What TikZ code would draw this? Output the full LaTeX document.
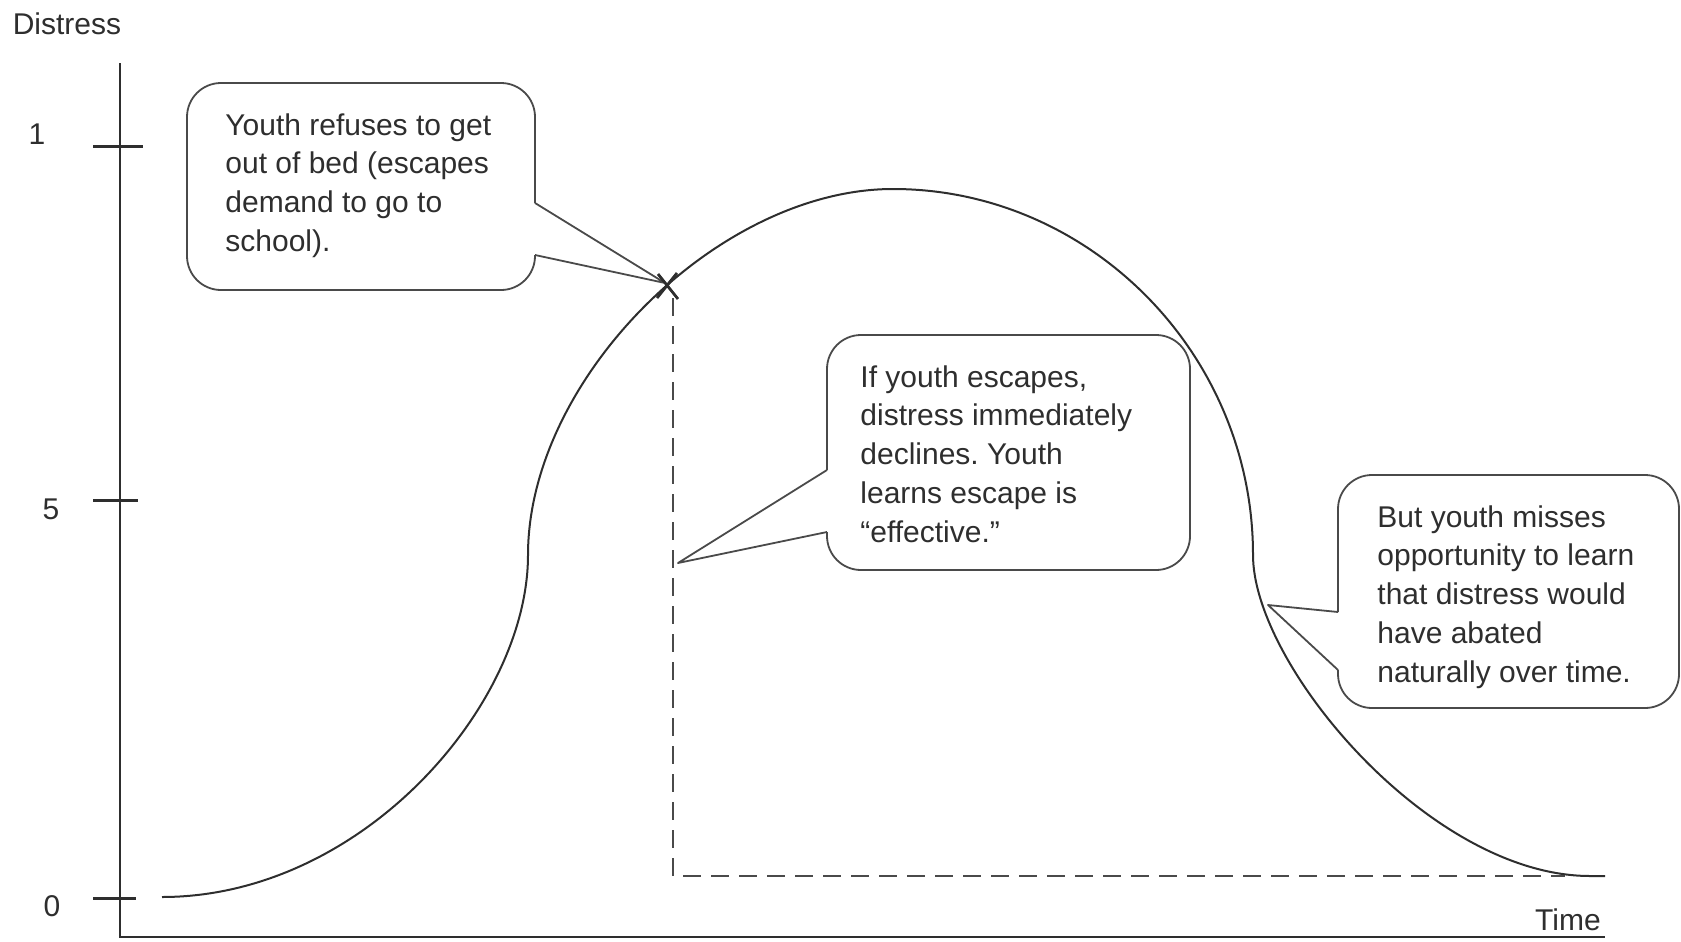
\documentclass[tikz,border=0pt]{standalone}
\usepackage{fontspec}
\setmainfont{Liberation Sans}
\frenchspacing
\definecolor{ink}{HTML}{2E2E2E}
\definecolor{edge}{HTML}{4A4A4A}
\begin{document}
\begin{tikzpicture}[x=0.5pt,y=-0.5pt,
  every node/.style={inner sep=0pt, text=ink, font=\fontsize{15pt}{19.4pt}\selectfont},
  axisline/.style={line width=1.2pt, draw=ink},
  tickline/.style={line width=1.5pt, draw=ink},
  curveline/.style={line width=1pt, draw=ink},
  calloutline/.style={line width=0.9pt, draw=edge, line join=round},
  dashline/.style={line width=0.9pt, draw=edge, dash pattern=on 9pt off 5pt},
  calltext/.style={anchor=north west, align=left}]
\useasboundingbox (0,0) rectangle (1681,942);

% callout 1
\coordinate (tip1) at (665,283);
\draw[calloutline, rounded corners=17pt] (535,255) -- (535,290) -- (187,290) -- (187,83) -- (535,83) -- (535,203);
\draw[calloutline] (535,203) -- (tip1) -- (535,255);
\node[calltext] (t1) at (225,113) {Youth refuses to get\\out of bed (escapes\\demand to go to\\school).};

% callout 2
\coordinate (tip2) at (678,563);
\draw[calloutline, rounded corners=17pt] (827,532) -- (827,570) -- (1190,570) -- (1190,335) -- (827,335) -- (827,470);
\draw[calloutline] (827,470) -- (tip2) -- (827,532);
\node[calltext] (t2) at (860,365) {If youth escapes,\\distress immediately\\declines.\ Youth\\learns escape is\\“effective.”};

% callout 3
\coordinate (tip3) at (1268,605);
\draw[calloutline, rounded corners=17pt] (1338,670) -- (1338,708) -- (1679,708) -- (1679,475) -- (1338,475) -- (1338,612);
\draw[calloutline] (1338,612) -- (tip3) -- (1338,670);
\node[calltext] (t3) at (1377,505) {But youth misses\\opportunity to learn\\that distress would\\have abated\\naturally over time.};

% axes
\coordinate (ytop) at (120,63);
\coordinate (origin) at (120,937);
\coordinate (xend) at (1605,937);
\draw[axisline] (ytop) -- (origin) -- (xend);
\draw[tickline] (93,146) -- (143,146);
\draw[tickline] (93,500) -- (138,500);
\draw[tickline] (93,898) -- (136,898);
\node (l1) at (37,134) {1};
\node (l5) at (51,509) {5};
\node (l0) at (52,906) {0};
\node (ylab) at (67,24) {Distress};
\node (xlab) at (1568,920) {Time};

% dashed escape path
\coordinate (dtop) at (673,298);
\coordinate (dcorner) at (673,876);
\coordinate (dend) at (1565,876);
\draw[dashline] (dtop) -- (dcorner) -- (dend);

% distress curve
\draw[curveline] (162,897) .. controls (362,897) and (528,705) .. (528,555)
  .. controls (528,379) and (718,189) .. (893,189)
  .. controls (1090,189) and (1253,354) .. (1253,555)
  .. controls (1253,665) and (1430,876) .. (1590,876) -- (1605,876);

% escape mark
\draw[line width=1.4pt, draw=ink] (658,274) -- (678,299) (657,298) -- (677,273);
\end{tikzpicture}
\end{document}
